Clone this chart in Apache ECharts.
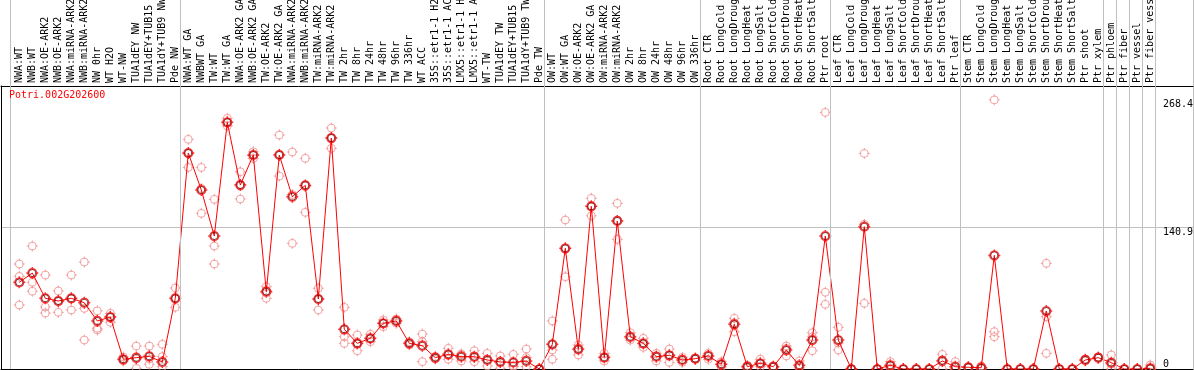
<!DOCTYPE html>
<html>
<head>
<meta charset="utf-8">
<script src="https://cdn.jsdelivr.net/npm/echarts@6/dist/echarts.min.js"></script>
<style>
html,body{margin:0;padding:0;background:#fff;}
#chart{width:1194px;height:370px;}
</style>
</head>
<body>
<div id="chart"></div>
<script>
const title = 'Potri.002G202600';
const categories = [
  'NWA:WT','NWB:WT','NWA:OE-ARK2','NWB:OE-ARK2','NWA:miRNA-ARK2','NWB:miRNA-ARK2','NW 0hr','WT H2O','WT-NW',
  'TUA1dEY NW','TUA1dEY+TUB15 NW','TUA1dY+TUB9 NW','Pde NW',
  'NWA:WT GA','NWBWT GA','TW:WT','TW:WT GA','NWA:OE-ARK2 GA','NWB:OE-ARK2 GA','TW:OE-ARK2','TW:OE-ARK2 GA',
  'NWA:miRNA-ARK2 GA','NWB:miRNA-ARK2 GA','TW:miRNA-ARK2','TW:miRNA-ARK2 GA','TW 2hr','TW 8hr','TW 24hr','TW 48hr',
  'TW 96hr','TW 336hr','WT ACC','35S::etr1-1 H2O','35S::etr1-1 ACC','LMX5::etr1-1 H2O','LMX5::etr1-1 ACC','WT-TW',
  'TUA1dEY TW','TUA1dEY+TUB15 TW','TUA1dY+TUB9 TW','Pde TW',
  'OW:WT','OW:WT GA','OW:OE-ARK2','OW:OE-ARK2 GA','OW:miRNA-ARK2','OW:miRNA-ARK2 GA','OW 2hr','OW 8hr','OW 24hr',
  'OW 48hr','OW 96hr','OW 336hr',
  'Root CTR','Root LongCold','Root LongDrought','Root LongHeat','Root LongSalt','Root ShortCold','Root ShortDrought',
  'Root ShortHeat','Root ShortSalt','Ptr root',
  'Leaf CTR','Leaf LongCold','Leaf LongDrought','Leaf LongHeat','Leaf LongSalt','Leaf ShortCold','Leaf ShortDrought',
  'Leaf ShortHeat','Leaf ShortSalt','Ptr leaf',
  'Stem CTR','Stem LongCold','Stem LongDrought','Stem LongHeat','Stem LongSalt','Stem ShortCold','Stem ShortDrought',
  'Stem ShortHeat','Stem ShortSalt','Ptr shoot','Ptr xylem',
  'Ptr phloem','Ptr fiber','Ptr vessel','Ptr fiber vessel'
];
const groupSizes = [13, 28, 12, 10, 10, 11, 1, 1, 1, 1];
const meanValues = [
  86.4, 95.7, 70.5, 67.8, 70.5, 66.1, 47.9, 51.8, 9.7, 11.3, 12.6, 7.0, 70.5,
  215.4, 178.5, 132.6, 246.0, 183.4, 213.4, 77.1, 213.4, 171.8, 183.1, 69.8, 230.3, 39.6, 25.6, 30.6, 45.6,
  47.9, 25.6, 23.2, 11.3, 14.6, 12.3, 12.3, 9.0, 7.0, 6.6, 8.0, 0,
  24.6, 120.3, 19.6, 162.2, 11.6, 147.6, 32.2, 25.6, 12.3, 13.7, 9.0, 10.3,
  13.0, 4.7, 44.6, 2.3, 5.7, 2.3, 18.9, 3.7, 28.9, 132.6,
  28.9, 0, 141.9, 0, 3.7, 0, 0, 0, 8.0, 2.3,
  1.7, 1.3, 113.3, 0, 0, 0, 57.8, 0, 0, 9.0, 11.3,
  6.3, 0, 0, 0.7
];
const rep1 = [
  104.7, 122.6, 93.7, 77.8, 93.7, 106.7, 58.0, 55.5, 12.0, 22.9, 22.9, 24.6, 80.8,
  229.0, 201.0, 169.2, 250.0, 196.7, 216.6, 82.1, 233.3, 216.4, 210.1, 80.5, 240.3, 61.5, 33.9, 34.6, 48.9,
  49.9, 27.2, 34.9, 12.5, 20.6, 14.0, 18.2, 15.6, 13.0, 14.6, 19.9, 0,
  47.9, 148.6, 23.9, 170.2, 15.6, 165.2, 36.2, 30.6, 15.6, 19.9, 11.6, 11.0,
  15.6, 7.3, 50.5, 2.3, 9.7, 2.3, 22.9, 8.0, 36.2, 255.9,
  41.6, 0, 215.0, 0, 7.3, 0, 0, 0, 14.6, 7.3,
  2.0, 3.0, 268.4, 0, 0, 0, 105.4, 0, 0, 10.0, 12.0,
  14.0, 0, 0, 4.0
];
const rep2 = [
  92.4, 86.4, 61.8, 68.0, 70.0, 60.5, 40.6, 52.0, 9.5, 10.0, 10.0, 12.3, 70.0,
  215.0, 180.0, 122.6, 246.0, 184.0, 213.0, 78.0, 214.0, 174.0, 183.0, 70.0, 230.5, 32.2, 25.0, 30.0, 45.6,
  48.0, 25.6, 27.2, 11.3, 14.0, 15.0, 11.5, 8.5, 7.3, 3.0, 11.3, 0,
  18.9, 120.0, 21.0, 162.0, 11.0, 148.0, 31.0, 25.0, 13.0, 14.0, 9.0, 10.3,
  13.5, 4.5, 46.0, 1.0, 5.0, 2.0, 20.5, 2.0, 32.0, 76.5,
  26.0, 0, 144.3, 0, 3.0, 0, 0, 0, 9.0, 0,
  2.0, 1.0, 37.2, 0, 0, 0, 52.1, 0, 0, 9.0, 11.0,
  5.0, 0, 0, 0
];
const rep3 = [
  63.8, 77.5, 55.8, 56.5, 58.8, 28.9, 38.9, 46.6, 8.0, 0.7, 4.7, 2.3, 61.5,
  201.0, 155.2, 104.7, 242.3, 169.5, 210.0, 70.5, 192.4, 125.3, 156.2, 58.8, 220.0, 25.6, 18.2, 27.2, 42.2,
  45.6, 24.0, 7.3, 10.0, 9.7, 8.0, 7.3, 3.0, 0.7, 2.3, 2.3, 0,
  9.7, 92.0, 14.0, 152.8, 8.0, 129.3, 28.9, 21.6, 8.0, 6.6, 6.5, 9.7,
  9.7, 2.3, 37.2, 3.5, 2.3, 2.6, 13.0, 1.0, 18.2, 64.5,
  18.9, 0, 65.5, 0, 0.8, 0, 0, 0, 0, 0,
  1.0, 0, 32.2, 0, 0, 0, 15.6, 0, 0, 8.0, 11.0,
  0, 0, 0, 0
];
const yLabelValuesTop = [140.9, 268.4];
const yLabelValuesBottom = [0];
const gridLineValues = [140.9];

// ---- layout / scale constants ----
const PX_PER_UNIT = 1.0028;
const plotTop = 86, plotBottom = 369;
const catStep = 13, firstCatX = 19.3, rightEdge = 1193.3;
const xMin = -1;
const xMax = (rightEdge - firstCatX) / catStep;
const yMaxA = (plotBottom - plotTop) / PX_PER_UNIT;
const yMaxB = plotBottom / PX_PER_UNIT;

// group separators (after the last category of each group)
const boundaries = [-0.7];
let cum = 0;
groupSizes.forEach(s => { cum += s; boundaries.push(cum - 1 + 0.385); });

const repData = [];
[rep1, rep2, rep3].forEach(arr => arr.forEach((v, i) => repData.push([i, v])));
const meanData = meanValues.map((v, i) => [i, v]);

const marker = 'path://M0,-4A4,4,0,1,1,0,4A4,4,0,1,1,0,-4Z M0,-5.5L0,-3 M0,3L0,5.5 M-5.5,0L-3,0 M3,0L5.5,0';
const mono = 'DejaVu Sans Mono';
const noLine = {show: false};

const chart = echarts.init(document.getElementById('chart'), null, {renderer: 'canvas'});
chart.setOption({
  animation: false,
  title: {
    text: title, left: 9, top: 90, padding: 0,
    textStyle: {color: '#ff0000', fontSize: 10, fontWeight: 'normal', fontFamily: mono}
  },
  grid: [
    {left: 1, right: 1, top: plotTop, bottom: 370 - plotBottom, containLabel: false, outerBoundsMode: 'none'},
    {left: firstCatX + xMin * catStep, right: 1194 - rightEdge, top: 0, bottom: 370 - plotBottom,
     containLabel: false, outerBoundsMode: 'none'}
  ],
  xAxis: [
    {gridIndex: 0, type: 'value', min: 0, max: 1, position: 'top',
     axisLine: {show: true, onZero: false, lineStyle: {color: '#000', width: 1}}, axisTick: noLine, axisLabel: noLine, splitLine: noLine},
    {gridIndex: 0, type: 'value', min: 0, max: 1, position: 'bottom',
     axisLine: {show: true, onZero: false, lineStyle: {color: '#000', width: 1}}, axisTick: noLine, axisLabel: noLine, splitLine: noLine},
    {gridIndex: 1, type: 'value', min: xMin, max: xMax, interval: 1, position: 'top', offset: -plotTop,
     axisLine: {show: false, onZero: false}, axisTick: noLine, splitLine: noLine,
     axisLabel: {
       show: true, rotate: -90, margin: 3, color: '#000', fontSize: 10, fontFamily: mono,
       showMinLabel: true, showMaxLabel: true, hideOverlap: false,
       formatter: v => (Number.isInteger(v) && categories[v] !== undefined) ? categories[v] : ''
     }}
  ],
  yAxis: [
    {gridIndex: 0, type: 'value', min: 0, max: yMaxA, position: 'left',
     axisLine: {show: true, onZero: false, lineStyle: {color: '#000', width: 1}},
     axisTick: {show: false, customValues: gridLineValues},
     axisLabel: noLine,
     splitLine: {show: true, lineStyle: {color: '#c0c0c0', width: 1}}},
    {gridIndex: 0, type: 'value', min: 0, max: yMaxA, position: 'right',
     axisLine: {show: false, onZero: false}, axisTick: noLine, splitLine: noLine,
     axisLabel: {show: true, inside: true, customValues: yLabelValuesTop, align: 'left', verticalAlign: 'top',
       margin: 30, color: '#000', fontSize: 10, fontFamily: mono}},
    {gridIndex: 0, type: 'value', min: 0, max: yMaxA, position: 'right',
     axisLine: {show: false, onZero: false}, axisTick: noLine, splitLine: noLine,
     axisLabel: {show: true, inside: true, customValues: yLabelValuesBottom, align: 'left', verticalAlign: 'bottom',
       margin: 30, color: '#000', fontSize: 10, fontFamily: mono}},
    {gridIndex: 1, type: 'value', min: 0, max: yMaxB, position: 'right',
     axisLine: {show: true, onZero: false, lineStyle: {color: '#c0c0c0', width: 1}}, axisTick: noLine,
     axisLabel: noLine, splitLine: noLine}
  ],
  series: [
    {
      type: 'scatter', xAxisIndex: 2, yAxisIndex: 3, data: repData,
      symbol: marker, symbolSize: 11, z: 2,
      itemStyle: {color: 'transparent', borderColor: '#f09090', borderWidth: 1}
    },
    {
      type: 'line', xAxisIndex: 2, yAxisIndex: 3, data: meanData,
      symbol: 'none', z: 3,
      lineStyle: {color: '#ff0000', width: 1},
      markLine: {
        silent: true, symbol: 'none', label: {show: false},
        lineStyle: {color: '#c0c0c0', width: 1, type: 'solid'},
        data: boundaries.map(b => ({xAxis: b}))
      }
    },
    {
      type: 'scatter', xAxisIndex: 2, yAxisIndex: 3, data: meanData,
      symbol: marker, symbolSize: 12, z: 4,
      itemStyle: {color: 'transparent', borderColor: '#ff0000', borderWidth: 1.5}
    },
    {
      type: 'scatter', xAxisIndex: 2, yAxisIndex: 3, data: meanData,
      symbol: 'circle', symbolSize: 7, z: 5,
      itemStyle: {color: 'transparent', borderColor: '#400000', borderWidth: 0.8}
    }
  ]
});
</script>
</body>
</html>
